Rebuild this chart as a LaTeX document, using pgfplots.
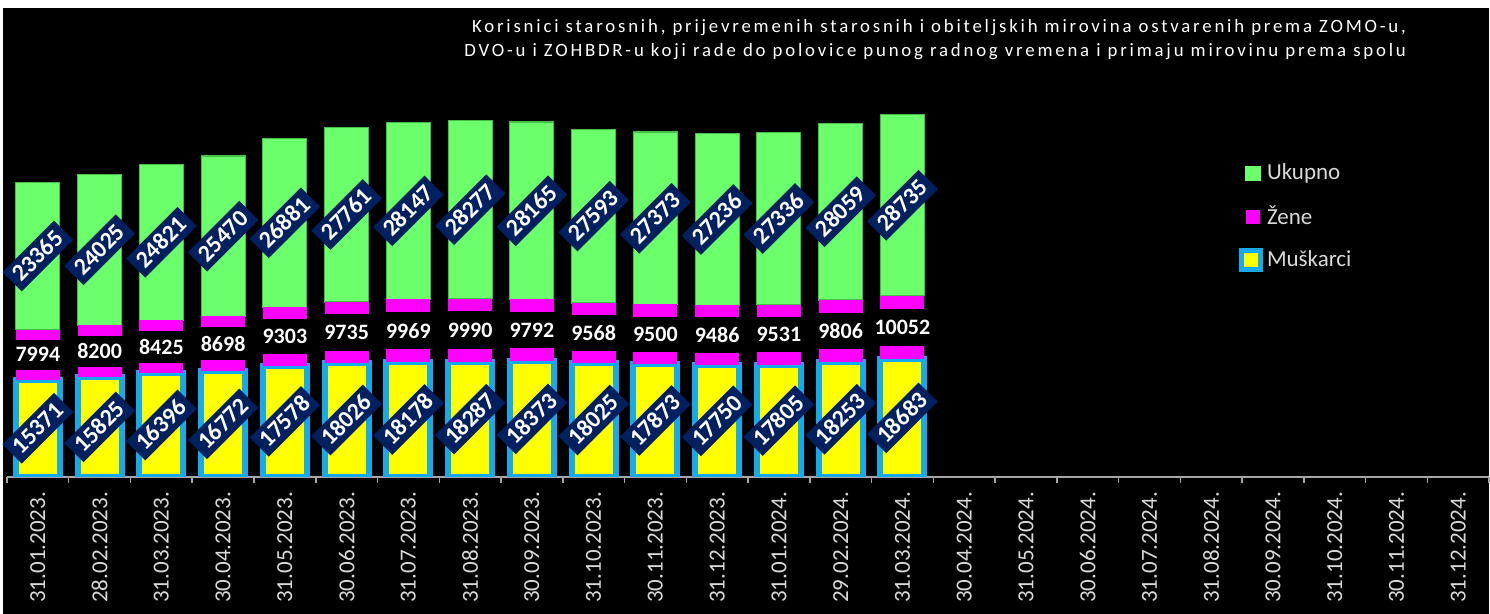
\documentclass[border=0pt]{standalone}
\usepackage{fontspec}
\setmainfont{Carlito}
\newfontfamily\titlefont[LetterSpace=15]{Carlito}
\usepackage{pgfplots}
\usepackage{pgfplotstable}
\pgfplotsset{compat=1.18}
\definecolor{uyellow}{RGB}{255,255,0}
\definecolor{ucyan}{RGB}{20,170,235}
\definecolor{ugreen}{RGB}{108,255,108}
\definecolor{ugreenedge}{RGB}{70,190,70}
\definecolor{umag}{RGB}{255,0,255}
\definecolor{unavy}{RGB}{0,32,96}
\definecolor{ugray}{RGB}{217,217,217}
\definecolor{uaxis}{RGB}{166,166,166}

\pgfdeclareplotmark{bandup}{\pgfpathrectanglecorners{\pgfpoint{-11pt}{0pt}}{\pgfpoint{11pt}{\bandh pt}}\pgfusepathqfill}
\pgfdeclareplotmark{banddown}{\pgfpathrectanglecorners{\pgfpoint{-11pt}{-\bandh pt}}{\pgfpoint{11pt}{0pt}}\pgfusepathqfill}

\pgfplotstableread{
x M Z U
0 15371 7994 23365
1 15825 8200 24025
2 16396 8425 24821
3 16772 8698 25470
4 17578 9303 26881
5 18026 9735 27761
6 18178 9969 28147
7 18287 9990 28277
8 18373 9792 28165
9 18025 9568 27593
10 17873 9500 27373
11 17750 9486 27236
12 17805 9531 27336
13 18253 9806 28059
14 18683 10052 28735
}\data

\pgfplotsset{
  myax/.style={
    scale only axis,
    at={(3.5pt,68.5pt)}, anchor=south west,
    width=741.5pt, height=234.5pt,
    xmin=-0.5, xmax=23.5, ymin=0, ymax=74450,
  },
  lbl/.style={only marks, mark=*, mark size=0pt, mark options={draw=none,fill=none},
    nodes near coords, point meta=explicit symbolic},
  boxlbl/.style={nodes near coords style={anchor=center, rotate=45, fill=unavy, text=white,
    font=\bfseries\fontsize{12}{13}\selectfont, inner xsep=3pt, inner ysep=3pt,
    text height=7.6pt, text depth=0pt}},
}

\begin{document}
\begin{tikzpicture}
\fill[black] (0pt,0pt) rectangle (745pt,307pt);
\fill[white] (0pt,303pt) rectangle (745pt,307pt);
\fill[white] (0pt,0pt) rectangle (1.5pt,307pt);

\begin{axis}[myax,
  ybar stacked, bar width=22pt,
  axis x line*=bottom, axis y line=none,
  x axis line style={draw=uaxis, line width=1pt, -},
  xtick={0,...,23},
  xticklabels={31.01.2023.,28.02.2023.,31.03.2023.,30.04.2023.,31.05.2023.,30.06.2023.,31.07.2023.,31.08.2023.,30.09.2023.,31.10.2023.,30.11.2023.,31.12.2023.,31.01.2024.,29.02.2024.,31.03.2024.,30.04.2024.,31.05.2024.,30.06.2024.,31.07.2024.,31.08.2024.,30.09.2024.,31.10.2024.,30.11.2024.,31.12.2024.},
  major tick length=0pt,
  minor xtick={-0.5,0.5,...,23.5},
  minor tick length=3pt, tick align=outside,
  minor tick style={draw=uaxis, line width=0.75pt},
  xticklabel style={rotate=90, anchor=east, text=ugray, font=\fontsize{11.5}{12}\selectfont, inner sep=0pt, xshift=-7.5pt},
  legend style={at={(0.827,0.685)}, anchor=north west, draw=none, fill=none,
    text=ugray, font=\fontsize{11.5}{13}\selectfont, row sep=7.5pt},
  legend cell align=left,
  reverse legend,
]
\addplot[fill=uyellow, draw=ucyan, line width=3pt,
  legend image code/.code={\fill[ucyan] (0pt,-4.5pt) rectangle (9pt,4.5pt); \fill[uyellow] (2.5pt,-2pt) rectangle (6.5pt,2pt);}]
  table[x=x,y=M]{\data};
\addlegendentry{Muškarci}
\addplot[draw=none, fill=none,
  legend image code/.code={\fill[umag] (2pt,-3.5pt) rectangle (9pt,3.5pt);}]
  table[x=x,y=Z]{\data};
\addlegendentry{Žene}
\addplot[fill=ugreen, draw=ugreenedge, line width=0.6pt,
  legend image code/.code={\fill[ugreen] (2pt,-3.5pt) rectangle (9pt,3.5pt);}]
  table[x=x,y=U]{\data};
\addlegendentry{Ukupno}
\end{axis}

\begin{axis}[myax, hide axis]
% magenta end faces of the Zene segments
\addplot[only marks, mark=bandup, mark options={fill=umag, draw=none},
  visualization depends on={\thisrow{Z}*0.00064 \as \bandh}]
  table[x=x, y=M]{\data};
\addplot[only marks, mark=banddown, mark options={fill=umag, draw=none},
  visualization depends on={\thisrow{Z}*0.00064 \as \bandh}]
  table[x=x, y expr=\thisrow{M}+\thisrow{Z}]{\data};
% value labels
\addplot[lbl, boxlbl]
  table[x=x, y expr=\thisrow{M}/2, meta=M]{\data};
\addplot[lbl, nodes near coords style={anchor=center, text=white,
    font=\bfseries\fontsize{11}{12}\selectfont}]
  table[x=x, y expr=\thisrow{M}+\thisrow{Z}/2, meta=Z]{\data};
\addplot[lbl, boxlbl]
  table[x=x, y expr=\thisrow{M}+\thisrow{Z}+\thisrow{U}/2, meta=U]{\data};
\end{axis}

\node[anchor=base east, text=white, font=\titlefont\fontsize{9.4}{12}\selectfont] at (707pt,290.5pt) {Korisnici starosnih, prijevremenih starosnih i obiteljskih mirovina ostvarenih prema ZOMO-u,};
\node[anchor=base east, text=white, font=\titlefont\fontsize{9.4}{12}\selectfont] at (707pt,278.5pt) {DVO-u i ZOHBDR-u koji rade do polovice punog radnog vremena i primaju mirovinu prema spolu};
\end{tikzpicture}
\end{document}
